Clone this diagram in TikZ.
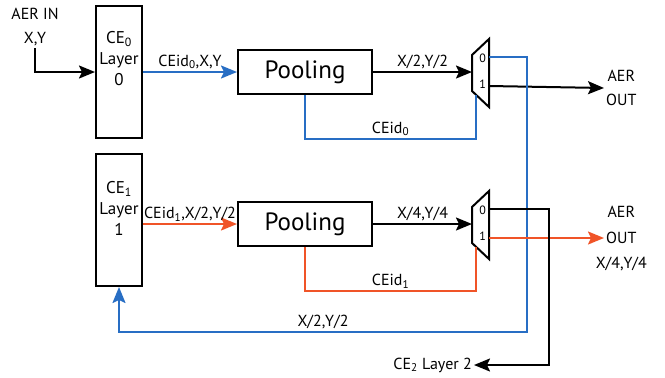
\documentclass[tikz,border=0pt]{standalone}
\usepackage{fontspec}
\setmainfont{PT Sans}
\usetikzlibrary{arrows.meta,positioning}
\definecolor{ceblue}{RGB}{40,110,196}
\definecolor{cered}{RGB}{240,84,40}
\tikzstyle{block}=[draw, line width=2pt, inner sep=0pt]
\tikzstyle{ce}=[block, minimum width=46pt, minimum height=132pt, align=center, font=\fontsize{17}{21}\selectfont]
\tikzstyle{pool}=[block, minimum width=134pt, minimum height=44pt, font=\fontsize{25}{28}\selectfont]
\tikzstyle{wire}=[draw, line width=2pt]
\tikzstyle{edge}=[wire, -{Stealth[length=16pt,width=13pt,inset=3pt]}]
\tikzstyle{weight}=[font=\fontsize{16}{24}\selectfont, inner sep=2pt]
\tikzstyle{port}=[font=\fontsize{12}{12}\selectfont, inner sep=0pt]

\begin{document}
\begin{tikzpicture}[x=1pt, y=-1pt]
    \useasboundingbox (0,0) rectangle (665,378);

    % processing blocks
    \node[ce] (ce0) at (119,72) {CE\textsubscript{0}\\Layer\\0\\[6pt]};
    \node[ce] (ce1) at (119,220) {CE\textsubscript{1}\\Layer\\1\\[2pt]};
    \node[pool] (pool0) at (305,72) {Pooling};
    \node[pool] (pool1) at (305,224) {Pooling};

    % multiplexers
    \foreach \i/\y in {0/39, 1/191} {
        \draw[line width=2pt, line join=miter] (472,\y+16) -- (489,\y) -- (489,\y+68) -- (472,\y+52) -- cycle;
        \coordinate (m\i in) at (472,\y+33);
        \coordinate (m\i o0) at (489,\y+18);
        \coordinate (m\i o1) at (489,\y+47);
        \coordinate (m\i sel) at (476,\y+55.8);
        \node[port, anchor=east] at (486,\y+19) {0};
        \node[port, anchor=east] at (486,\y+45) {1};
    }

    % text terminals
    \node[weight, align=center] (ain) at (35,27) {AER IN\\X,Y};
    \node[weight, align=center, anchor=west] (aout0) at (604,88) {AER\\OUT};
    \node[weight, anchor=west] (aout1) at (604,238) {OUT};
    \node[weight] (aer1) at (aout1.center |- 0,212) {AER};
    \node[weight] (xy4) at (aout1.center |- 0,264) {X/4,Y/4};
    \node[weight, anchor=east] (ce2) at (474,365) {CE\textsubscript{2} Layer 2};

    % upper layer
    \draw[edge] (ain.south) |- (ce0.west);
    \path[edge, ceblue] (ce0.east) -- node[weight, above, black] {CEid\textsubscript{0},X,Y} (pool0.west);
    \path[edge] (pool0.east) -- node[weight, above] {X/2,Y/2} (m0in);
    \path[wire, ceblue] (pool0.south) -- ++(0,44) -| node[weight, above, black, pos=0.25] {CEid\textsubscript{0}} (m0sel);
    \path[edge] (m0o1) -- (aout0.west);
    \path[edge, ceblue] (m0o0) -- (527,57) -- (527,332) -| node[weight, above, black, pos=0.25] {X/2,Y/2} (ce1.south);

    % lower layer
    \path[edge, cered] (ce1.east |- pool1.west) -- node[weight, above, black] {CEid\textsubscript{1},X/2,Y/2} (pool1.west);
    \path[edge] (pool1.east) -- node[weight, above] {X/4,Y/4} (m1in);
    \path[wire, cered] (pool1.south) -- ++(0,44) -| node[weight, above, black, pos=0.25] {CEid\textsubscript{1}} (m1sel);
    \path[edge, cered] (m1o1) -- (aout1.west);
    \path[edge] (m1o0) -- ++(60,0) |- (ce2.east);

\end{tikzpicture}
\end{document}
